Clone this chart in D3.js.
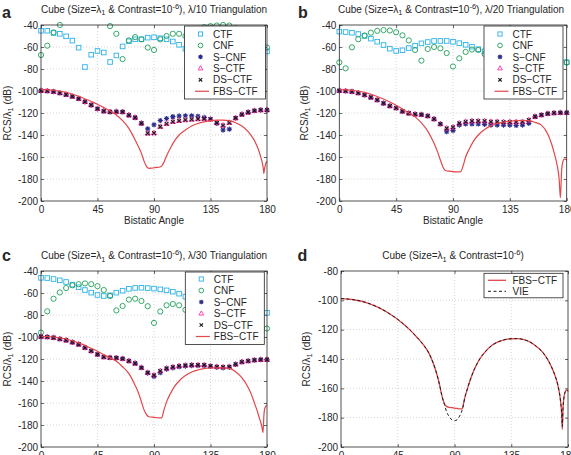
<!DOCTYPE html>
<html><head><meta charset="utf-8">
<script src="https://cdn.jsdelivr.net/npm/d3@7"></script>
<style>
body{margin:0;background:#fff}
svg{display:block}
text{font-family:"Liberation Sans",Arial,Helvetica,sans-serif;fill:#262626}
</style>
</head><body>
<svg id="chart" width="571" height="455"></svg>
<script>
// ---------------- DATA ----------------
const angles = [0,5,10,15,20,25,30,35,40,45,50,55,60,65,70,75,80,85,90,95,100,105,110,115,120,125,130,135,140,145,150,155,160,165,170,175,180];
const xTicks = [0,45,90,135,180];
const yTicksABC = [-200,-180,-160,-140,-120,-100,-80,-60,-40];
const yTicksD = [-200,-180,-160,-140,-120,-100,-80];
const seriesNames = ["CTF","CNF","S-CNF","S-CTF","DS-CTF","FBS-CTF"];
const seriesNamesD = ["FBS-CTF","VIE"];

// panel a (lambda/10)
const aCTF  = [-45.2,-45.2,-47.3,-48,-50.3,-54.2,-60.6,-78.2,-67,-63.6,-65,-73.6,-67.7,-59.5,-54.8,-53,-53,-51.5,-51.2,-52,-53,-55,-58,-61.5,-62,-60,-57,-55,-52,-50,-52,-55,-58,-60,-62,-63,-64];
const aCNF  = [-67.3,-58.8,-46.7,-40,-36,-33,-31,-31,-33,-35,-37,-41,-48,-71,-54,-51,-53,-60.5,-62.7,-53,-50,-48,-48,-50,-47,-44,-42,-41,-40.5,-40,-40.5,-43,-47,-50,-54,-57,-60.5];
const aSCNF = [-99.7,-100,-100.6,-101.8,-103.3,-105,-107,-109.8,-112.8,-116.2,-118.3,-119,-118.8,-119,-122,-124.2,-129.4,-134.4,-130.7,-126.8,-125,-123.3,-122.7,-122.5,-122.6,-123,-124,-125.7,-129.4,-135.5,-134.7,-124.6,-121.3,-119.4,-117.9,-117.3,-117.3];
const aSCTF = [-99.7,-100,-100.6,-101.8,-103.3,-105,-107,-109.8,-112.8,-116.2,-118.3,-119,-118.8,-119,-122,-124.2,-129.4,-138.5,-138.3,-132.4,-129.7,-127.9,-127.1,-126.4,-125.9,-125.5,-125.2,-125.7,-129,-131.4,-128.8,-124.6,-121.3,-119.4,-117.9,-117.3,-117.3];
const aDSCTF= [-99.7,-100,-100.6,-101.8,-103.3,-105,-107,-109.8,-112.8,-116.2,-118.3,-119,-118.8,-119,-122,-124.2,-129.4,-138.5,-138.3,-132.4,-129.7,-127.9,-127.1,-126.4,-125.9,-125.5,-125.2,-125.7,-129,-131.4,-128.8,-124.6,-121.3,-119.4,-117.9,-117.3,-117.3];
const aFBSAngles = [0,10,20,30,40,45,50,55,60,65,70,75,78,80,82,84,86,88,90,92,94,96,98,100,103,106,110,115,120,125,130,135,140,145,150,155,160,165,168,170,172,174,175,176,177,177.5,178,179,180];
const aFBS = [-98.5,-99.3,-101.3,-104.8,-109.5,-112,-115,-118.2,-121.8,-127,-134,-144.5,-151.5,-156.7,-163.5,-168.5,-170.3,-170.2,-169.8,-169.5,-169.3,-168.3,-164.5,-159,-152,-146,-140,-135.5,-131.8,-129.5,-128,-127,-126.5,-126.4,-127,-128.8,-131.8,-137,-141.5,-145,-150,-156,-160,-164,-170,-175,-171,-166,-164];

// panel b (lambda/20)
const bCTF  = [-46,-46.4,-47,-48.2,-50,-52.4,-55.2,-58.2,-61.5,-63.6,-63,-61,-58.8,-56.7,-55.5,-54.5,-54.5,-54.5,-55.3,-56.5,-58,-59.7,-62,-64,-65,-64,-62,-60,-58,-57,-58,-60,-63,-66,-69,-72,-73.8];
const bCNF  = [-74,-79.4,-60.3,-53,-49.5,-47,-45.3,-44.6,-45,-46.6,-49.4,-54,-62.7,-72.4,-61.8,-60,-61.2,-65.5,-77.7,-70.3,-64.5,-62.3,-62.7,-66.4,-68,-66,-63,-62,-63,-66,-70,-73,-72,-70,-70,-72,-74.2];
const bSCNF = [-99.7,-100,-100.6,-101.8,-103.6,-105.8,-108.2,-111.2,-113.6,-115.5,-118.5,-120.3,-121.2,-121.5,-122.7,-125.5,-130,-137,-136,-131,-130,-130,-130,-130.3,-131,-131,-131,-131,-131.3,-131,-129.4,-123.3,-121.8,-120.6,-120,-119.7,-119.7];
const bSCTF = [-99.7,-100,-100.6,-101.8,-103.6,-105.8,-108.2,-111.2,-113.6,-115.5,-118.5,-120.3,-121.2,-121.5,-122.7,-125.5,-130,-134,-133,-129.4,-128,-127.3,-127.3,-127.3,-128,-128,-128.2,-128.2,-128.2,-128,-126.4,-123.3,-121.8,-120.6,-120,-119.7,-119.7];
const bDSCTF= [-99.7,-100,-100.6,-101.8,-103.6,-105.8,-108.2,-111.2,-113.6,-115.5,-118.5,-120.3,-121.2,-121.5,-122.7,-125.5,-130,-134,-133,-129.4,-128,-127.3,-127.3,-127.3,-128,-128,-128.2,-128.2,-128.2,-128,-126.4,-123.3,-121.8,-120.6,-120,-119.7,-119.7];
const bFBSAngles = [0,10,20,30,40,45,50,55,60,65,70,75,78,80,82,84,86,88,90,92,94,96,98,100,103,106,110,115,120,125,130,135,140,145,150,155,160,165,168,170,172,173,174,175,176,177,178,179,180];
const bFBS = [-98.5,-99.3,-101.3,-105,-110,-113,-116.5,-120,-123.5,-129,-136.5,-147.6,-156,-162.7,-169,-172.3,-172.8,-173,-173.3,-173.5,-173.6,-173.3,-168,-160,-152.5,-146,-140,-135,-131.5,-129.5,-128.2,-127.5,-127,-126.8,-127,-128.5,-131,-139,-148,-156,-165,-171,-180,-197,-172,-164,-162,-162,-163];

// panel c (lambda/30)
const cCTF  = [-46.2,-46.4,-47.3,-48.5,-50,-52.4,-54.8,-57.3,-59.7,-61.8,-62.7,-62.1,-59.7,-57.9,-56.2,-55.4,-55.2,-55.5,-56,-56.7,-57.6,-58.8,-60.6,-63.3,-66,-68,-70,-71,-72,-73,-74,-75,-76,-77,-77.5,-78,-78];
const cCNF  = [-96,-76.6,-65.2,-59.5,-55.5,-53,-52,-51.3,-52,-53.8,-57.3,-62.7,-75.8,-71.8,-66,-65.2,-67.3,-72,-87.2,-76.8,-71.2,-70,-71.2,-75.3,-80,-84,-86,-85,-83,-82,-83,-85,-88,-90,-91,-92,-92.3];
const cSCNF = [-99.7,-100,-100.6,-101.8,-103,-104.8,-106.7,-109.7,-112.7,-115.8,-118.2,-118.8,-119,-119.7,-121.8,-124,-127.9,-132.8,-135.8,-132.5,-129.3,-128,-127,-126.4,-126,-126,-126,-126.8,-127.6,-128,-127.6,-125,-122.7,-121.8,-121,-120.6,-120.6];
const cSCTF = [-99.7,-100,-100.6,-101.8,-103,-104.8,-106.7,-109.7,-112.7,-115.8,-118.2,-118.8,-119,-119.7,-121.8,-124,-127.9,-132.4,-134.8,-130.9,-128.5,-127.3,-126.4,-125.8,-125.5,-125.5,-125.5,-126.4,-127,-127.3,-127,-124.8,-122.7,-121.8,-121,-120.6,-120.6];
const cDSCTF= [-99.7,-100,-100.6,-101.8,-103,-104.8,-106.7,-109.7,-112.7,-115.8,-118.2,-118.8,-119,-119.7,-121.8,-124,-127.9,-132.4,-134.8,-130.9,-128.5,-127.3,-126.4,-125.8,-125.5,-125.5,-125.5,-126.4,-127,-127.3,-127,-124.8,-122.7,-121.8,-121,-120.6,-120.6];
const cFBSAngles = [0,10,20,30,40,45,50,55,60,65,70,75,78,80,82,84,86,88,90,92,94,96,98,100,103,106,110,115,120,125,130,135,140,145,150,155,160,165,168,170,172,174,175,176,176.8,177.5,178,179,180];
const cFBS = [-99.3,-100,-101.8,-105.3,-110.3,-113,-116,-119,-122,-127,-133.3,-144,-152,-159,-166,-170.5,-172.5,-172.8,-173,-173.3,-173.6,-173.6,-166,-159,-151.5,-145.5,-140,-135,-131.8,-130,-128.8,-128.2,-128,-128,-128.5,-131.5,-137,-146,-153.5,-160,-166.5,-174,-177.5,-182,-187,-172,-166,-163,-162];

// panel d (reference)
const dAngles = [0,10,20,30,40,45,50,55,60,65,70,75,78,80,82,84,86,88,90,92,94,96,97,98,100,103,106,110,115,120,125,130,135,140,145,150,155,160,165,168,170,172,174,175,175.5,176,177,178,179,180];
const dFBS = [-98.8,-99.6,-101.5,-105,-110,-113,-116.5,-120.5,-125,-130,-136.5,-147.5,-157,-165,-170.5,-172.5,-173,-173.2,-173.5,-173.7,-174,-174,-171,-167,-161,-153,-146.5,-140,-134.5,-130.5,-128.2,-126.8,-126.2,-126.1,-126.8,-128.5,-131.5,-135.5,-142,-147.5,-152,-158,-168,-178,-188,-175,-165,-162,-161,-162];
const dVIE = [-98.8,-99.6,-101.5,-105,-110,-113,-116.5,-120.5,-125,-130,-136.5,-147.5,-157,-165,-171,-176.5,-179.5,-181.5,-182,-181.5,-179,-175,-172,-167,-161,-153,-146.5,-140,-134.5,-130.5,-128.2,-126.8,-126.2,-126.1,-126.8,-128.5,-131.5,-135.5,-142,-147.5,-152,-158,-168,-177,-186,-174,-165,-162,-161,-162];

// ---------------- STYLE ----------------
const COL = {CTF:"#2cb1e8", CNF:"#1f9f58", SCNF:"#2e2e8a", SCTF:"#ff2fa8", DSCTF:"#1a1a1a", FBS:"#e2474a", VIE:"#1a1a1a"};
const svg = d3.select("#chart");
const disp = s => s.replace(/-/g, "\u2212");

function drawMarker(g, type, x, y, small){
  const k = small ? 0.9 : 1;
  if(type==="CTF"){
    const s=4.6*k;
    g.append("rect").attr("x",x-s/2).attr("y",y-s/2).attr("width",s).attr("height",s)
     .attr("fill","none").attr("stroke",COL.CTF).attr("stroke-width",0.9);
  } else if(type==="CNF"){
    g.append("circle").attr("cx",x).attr("cy",y).attr("r",2.6*k)
     .attr("fill","none").attr("stroke",COL.CNF).attr("stroke-width",0.9);
  } else if(type==="SCNF"){
    const r=2.6*k;
    g.append("circle").attr("cx",x).attr("cy",y).attr("r",1.3*k).attr("fill",COL.SCNF);
    g.append("path").attr("d",`M${x-r},${y}L${x+r},${y}M${x},${y-r}L${x},${y+r}M${x-r*0.72},${y-r*0.72}L${x+r*0.72},${y+r*0.72}M${x-r*0.72},${y+r*0.72}L${x+r*0.72},${y-r*0.72}`)
     .attr("stroke",COL.SCNF).attr("stroke-width",1.1).attr("fill","none");
  } else if(type==="SCTF"){
    const r=2.9*k;
    g.append("path").attr("d",`M${x},${y-r}L${x+r*0.9},${y+r*0.6}L${x-r*0.9},${y+r*0.6}Z`)
     .attr("fill","none").attr("stroke",COL.SCTF).attr("stroke-width",0.9);
  } else if(type==="DSCTF"){
    const r=1.9*k;
    g.append("path").attr("d",`M${x-r},${y-r}L${x+r},${y+r}M${x-r},${y+r}L${x+r},${y-r}`)
     .attr("stroke",COL.DSCTF).attr("stroke-width",1.1).attr("fill","none");
  }
}

function titleText(g, x, y, suffix){
  const t = g.append("text").attr("x",x).attr("y",y).attr("text-anchor","middle").attr("font-size",10);
  t.append("tspan").text("Cube (Size=\u03bb");
  t.append("tspan").attr("dy",2.5).attr("font-size",7.5).text("1");
  t.append("tspan").attr("dy",-2.5).text(" & Contrast=10");
  t.append("tspan").attr("dy",-4).attr("font-size",7.5).text("-6");
  t.append("tspan").attr("dy",4).text(")" + suffix);
}

function panel(cfg){
  const g = svg.append("g");
  const x = d3.scaleLinear().domain([0,180]).range([cfg.x0,cfg.x1]);
  const y = d3.scaleLinear().domain(cfg.yDomain).range([cfg.y1,cfg.y0]);
  const yT = cfg.yTicks;
  // grid
  const grid = g.append("g").attr("stroke","#c4c4c4").attr("stroke-width",0.7).attr("stroke-dasharray","1,2");
  xTicks.forEach(t=>{ if(t>0 && t<180) grid.append("line").attr("x1",x(t)).attr("x2",x(t)).attr("y1",cfg.y0).attr("y2",cfg.y1); });
  yT.forEach(t=>{ if(t>cfg.yDomain[0] && t<cfg.yDomain[1]) grid.append("line").attr("x1",cfg.x0).attr("x2",cfg.x1).attr("y1",y(t)).attr("y2",y(t)); });

  // axes with inward ticks
  const fmt = d => d<0 ? "-"+(-d) : String(d);
  const ax = g.append("g").attr("transform",`translate(0,${cfg.y1})`)
    .call(d3.axisBottom(x).tickValues(xTicks).tickSizeInner(-3).tickSizeOuter(0).tickPadding(5).tickFormat(fmt));
  const ay = g.append("g").attr("transform",`translate(${cfg.x0},0)`)
    .call(d3.axisLeft(y).tickValues(yT).tickSizeInner(-3).tickSizeOuter(0).tickPadding(3).tickFormat(fmt));
  const at = g.append("g").attr("transform",`translate(0,${cfg.y0})`)
    .call(d3.axisTop(x).tickValues(xTicks).tickSizeInner(-3).tickSizeOuter(0).tickFormat(""));
  const ar = g.append("g").attr("transform",`translate(${cfg.x1},0)`)
    .call(d3.axisRight(y).tickValues(yT).tickSizeInner(-3).tickSizeOuter(0).tickFormat(""));
  [ax,ay,at,ar].forEach(a=>{
    a.select(".domain").remove();
    a.selectAll("line").attr("stroke","#262626").attr("stroke-width",0.7);
    a.selectAll("text").attr("font-size",10).attr("font-family","Liberation Sans, Arial, sans-serif").attr("fill","#262626");
  });

  const inRange = v => v <= cfg.yDomain[1] + 0.01 && v >= cfg.yDomain[0];
  const lineGen = d3.line().x(d=>x(d[0])).y(d=>y(d[1])).curve(d3.curveMonotoneX);

  if(cfg.markers){
    cfg.markers.forEach(([type, vals])=>{
      const mg = g.append("g");
      angles.forEach((a,i)=>{ if(inRange(vals[i])) drawMarker(mg, type, x(a), y(vals[i])); });
    });
  }
  cfg.lines.forEach(L=>{
    g.append("path").datum(L.ang.map((a,i)=>[a,L.vals[i]]))
      .attr("d",lineGen).attr("fill","none").attr("stroke",L.color)
      .attr("stroke-width",L.width).attr("stroke-dasharray",L.dash||null);
  });

  // frame
  g.append("rect").attr("x",cfg.x0).attr("y",cfg.y0).attr("width",cfg.x1-cfg.x0).attr("height",cfg.y1-cfg.y0)
    .attr("fill","none").attr("stroke","#262626").attr("stroke-width",0.8);

  // title, labels
  titleText(g, cfg.tx, cfg.ty, cfg.suffix);
  g.append("text").attr("x",cfg.lx).attr("y",cfg.ly).attr("font-size",16).attr("font-weight","bold").attr("fill","#000").text(cfg.letter);
  const yl = g.append("text").attr("transform",`translate(${cfg.ylx},${(cfg.y0+cfg.y1)/2}) rotate(-90)`)
    .attr("text-anchor","middle").attr("font-size",10);
  yl.append("tspan").text("RCS/\u03bb");
  yl.append("tspan").attr("dy",2.5).attr("font-size",7.5).text("1");
  yl.append("tspan").attr("dy",-2.5).text(" (dB)");
  if(cfg.xlabel){
    g.append("text").attr("x",(cfg.x0+cfg.x1)/2).attr("y",cfg.y1+23).attr("text-anchor","middle").attr("font-size",10).text("Bistatic Angle");
  }

  // legend
  const lg = cfg.legend;
  const leg = g.append("g");
  leg.append("rect").attr("x",lg.x).attr("y",lg.y).attr("width",lg.w).attr("height",lg.h)
    .attr("fill","#fff").attr("stroke","#262626").attr("stroke-width",0.8);
  lg.items.forEach((it,i)=>{
    const yy = lg.y + lg.first + i*lg.step;
    if(it.line){
      leg.append("line").attr("x1",lg.x+lg.lineX0).attr("x2",lg.x+lg.lineX1).attr("y1",yy).attr("y2",yy)
        .attr("stroke",it.color).attr("stroke-width",it.width).attr("stroke-dasharray",it.dash||null);
    } else {
      drawMarker(leg, it.type, lg.x+lg.markX, yy, true);
    }
    leg.append("text").attr("x",lg.x+lg.textX).attr("y",yy+3.6).attr("font-size",10).text(disp(it.name));
  });
}

function stdLegend(x,y,w,h,first,step){
  return {x,y,w,h,first,step,markX:16,textX:28.5,lineX0:10.5,lineX1:24.5,
    items:[{type:"CTF",name:seriesNames[0]},{type:"CNF",name:seriesNames[1]},{type:"SCNF",name:seriesNames[2]},
           {type:"SCTF",name:seriesNames[3]},{type:"DSCTF",name:seriesNames[4]},
           {line:true,color:COL.FBS,width:1.2,name:seriesNames[5]}]};
}

panel({x0:41,x1:267,y0:25,y1:201,yDomain:[-200,-40],yTicks:yTicksABC,
  tx:154,ty:12.7,suffix:", \u03bb/10 Triangulation",letter:"a",lx:2,ly:17.5,ylx:10.5,xlabel:true,
  markers:[["CTF",aCTF],["CNF",aCNF],["SCNF",aSCNF],["SCTF",aSCTF],["DSCTF",aDSCTF]],
  lines:[{ang:aFBSAngles,vals:aFBS,color:COL.FBS,width:1.2}],
  legend:stdLegend(184.5,26,81,73,8,11.45)});

panel({x0:339.3,x1:566.7,y0:25,y1:201,yDomain:[-200,-40],yTicks:yTicksABC,
  tx:451,ty:12.7,suffix:", \u03bb/20 Triangulation",letter:"b",lx:298,ly:18,ylx:307.5,xlabel:true,
  markers:[["CTF",bCTF],["CNF",bCNF],["SCNF",bSCNF],["SCTF",bSCTF],["DSCTF",bDSCTF]],
  lines:[{ang:bFBSAngles,vals:bFBS,color:COL.FBS,width:1.2}],
  legend:stdLegend(484,26,79,73,8,11.45)});

panel({x0:41,x1:267,y0:271,y1:447,yDomain:[-200,-40],yTicks:yTicksABC,
  tx:154,ty:259,suffix:", \u03bb/30 Triangulation",letter:"c",lx:2,ly:261,ylx:10.5,xlabel:false,
  markers:[["CTF",cCTF],["CNF",cCNF],["SCNF",cSCNF],["SCTF",cSCTF],["DSCTF",cDSCTF]],
  lines:[{ang:cFBSAngles,vals:cFBS,color:COL.FBS,width:1.2}],
  legend:stdLegend(185.3,272,79,72.5,7,11.5)});

panel({x0:341,x1:568,y0:271,y1:447,yDomain:[-200,-80],yTicks:yTicksD,
  tx:453,ty:259,suffix:"",letter:"d",lx:297.5,ly:261,ylx:309.5,xlabel:false,
  markers:null,
  lines:[{ang:dAngles,vals:dFBS,color:COL.FBS,width:1.3},{ang:dAngles,vals:dVIE,color:COL.VIE,width:1,dash:"3,2.5"}],
  legend:{x:484,y:273.3,w:79,h:24.5,first:7,step:11,markX:16,textX:28.5,lineX0:4,lineX1:22,
    items:[{line:true,color:COL.FBS,width:1.3,name:seriesNamesD[0]},{line:true,color:COL.VIE,width:1,dash:"3,2.5",name:seriesNamesD[1]}]}});
</script>
</body></html>
